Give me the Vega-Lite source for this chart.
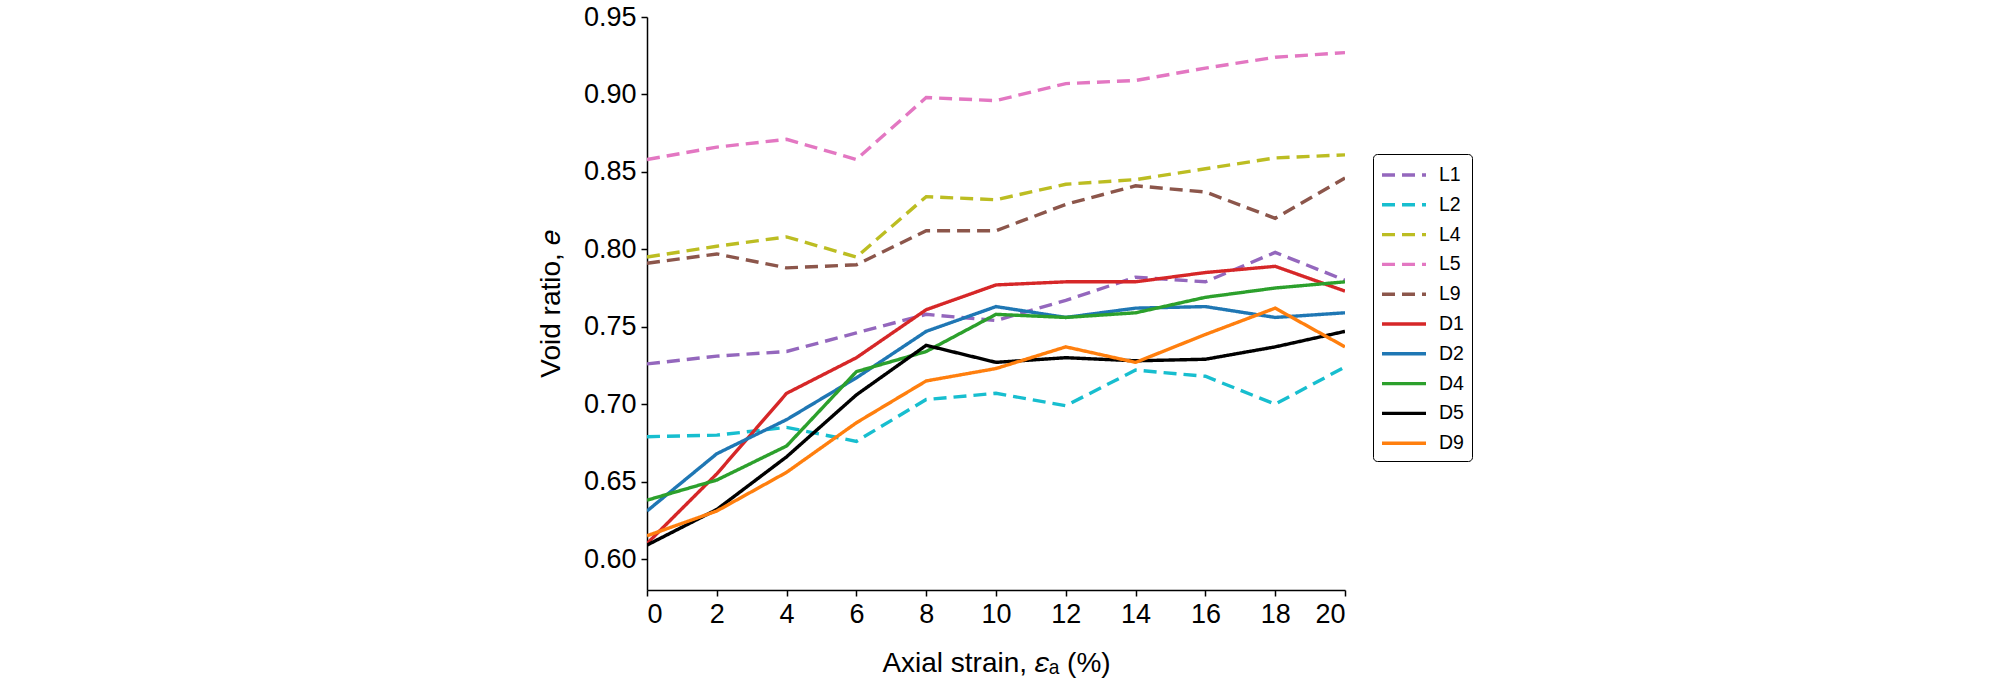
{
  "$schema": "https://vega.github.io/schema/vega-lite/v6.json",
  "description": "Void ratio against axial strain for loose (L) and dense (D) specimens.",
  "autosize": "none",
  "width": 698,
  "height": 573,
  "padding": {"left": 647, "top": 17, "right": 663, "bottom": 93},
  "background": "white",
  "config": {
    "view": {"stroke": null},
    "font": "Liberation Sans",
    "axis": {
      "grid": false,
      "domainColor": "black",
      "domainWidth": 1.5,
      "tickColor": "black",
      "tickWidth": 1.5,
      "tickSize": 6,
      "labelColor": "black",
      "labelFont": "Liberation Sans",
      "labelFontSize": 27,
      "labelPadding": 5,
      "titleColor": "black",
      "titleFont": "Liberation Sans",
      "titleFontSize": 28,
      "titleFontWeight": "normal"
    }
  },
  "data": {
    "values": [
      {"series": "L1", "strain": 0, "e": 0.726}, {"series": "L1", "strain": 2, "e": 0.731}, {"series": "L1", "strain": 4, "e": 0.734},
      {"series": "L1", "strain": 6, "e": 0.746}, {"series": "L1", "strain": 8, "e": 0.758}, {"series": "L1", "strain": 10, "e": 0.754},
      {"series": "L1", "strain": 12, "e": 0.767}, {"series": "L1", "strain": 14, "e": 0.782}, {"series": "L1", "strain": 16, "e": 0.779},
      {"series": "L1", "strain": 18, "e": 0.798}, {"series": "L1", "strain": 20, "e": 0.780},

      {"series": "L2", "strain": 0, "e": 0.679}, {"series": "L2", "strain": 2, "e": 0.680}, {"series": "L2", "strain": 4, "e": 0.685},
      {"series": "L2", "strain": 6, "e": 0.676}, {"series": "L2", "strain": 8, "e": 0.703}, {"series": "L2", "strain": 10, "e": 0.707},
      {"series": "L2", "strain": 12, "e": 0.699}, {"series": "L2", "strain": 14, "e": 0.722}, {"series": "L2", "strain": 16, "e": 0.718},
      {"series": "L2", "strain": 18, "e": 0.700}, {"series": "L2", "strain": 20, "e": 0.724},

      {"series": "L4", "strain": 0, "e": 0.795}, {"series": "L4", "strain": 2, "e": 0.802}, {"series": "L4", "strain": 4, "e": 0.808},
      {"series": "L4", "strain": 6, "e": 0.795}, {"series": "L4", "strain": 8, "e": 0.834}, {"series": "L4", "strain": 10, "e": 0.832},
      {"series": "L4", "strain": 12, "e": 0.842}, {"series": "L4", "strain": 14, "e": 0.845}, {"series": "L4", "strain": 16, "e": 0.852},
      {"series": "L4", "strain": 18, "e": 0.859}, {"series": "L4", "strain": 20, "e": 0.861},

      {"series": "L5", "strain": 0, "e": 0.858}, {"series": "L5", "strain": 2, "e": 0.866}, {"series": "L5", "strain": 4, "e": 0.871},
      {"series": "L5", "strain": 6, "e": 0.858}, {"series": "L5", "strain": 8, "e": 0.898}, {"series": "L5", "strain": 10, "e": 0.896},
      {"series": "L5", "strain": 12, "e": 0.907}, {"series": "L5", "strain": 14, "e": 0.909}, {"series": "L5", "strain": 16, "e": 0.917},
      {"series": "L5", "strain": 18, "e": 0.924}, {"series": "L5", "strain": 20, "e": 0.927},

      {"series": "L9", "strain": 0, "e": 0.791}, {"series": "L9", "strain": 2, "e": 0.797}, {"series": "L9", "strain": 4, "e": 0.788},
      {"series": "L9", "strain": 6, "e": 0.790}, {"series": "L9", "strain": 8, "e": 0.812}, {"series": "L9", "strain": 10, "e": 0.812},
      {"series": "L9", "strain": 12, "e": 0.829}, {"series": "L9", "strain": 14, "e": 0.841}, {"series": "L9", "strain": 16, "e": 0.837},
      {"series": "L9", "strain": 18, "e": 0.820}, {"series": "L9", "strain": 20, "e": 0.846},

      {"series": "D1", "strain": 0, "e": 0.610}, {"series": "D1", "strain": 2, "e": 0.655}, {"series": "D1", "strain": 4, "e": 0.707},
      {"series": "D1", "strain": 6, "e": 0.730}, {"series": "D1", "strain": 8, "e": 0.761}, {"series": "D1", "strain": 10, "e": 0.777},
      {"series": "D1", "strain": 12, "e": 0.779}, {"series": "D1", "strain": 14, "e": 0.779}, {"series": "D1", "strain": 16, "e": 0.785},
      {"series": "D1", "strain": 18, "e": 0.789}, {"series": "D1", "strain": 20, "e": 0.773},

      {"series": "D2", "strain": 0, "e": 0.631}, {"series": "D2", "strain": 2, "e": 0.668}, {"series": "D2", "strain": 4, "e": 0.690},
      {"series": "D2", "strain": 6, "e": 0.717}, {"series": "D2", "strain": 8, "e": 0.747}, {"series": "D2", "strain": 10, "e": 0.763},
      {"series": "D2", "strain": 12, "e": 0.756}, {"series": "D2", "strain": 14, "e": 0.762}, {"series": "D2", "strain": 16, "e": 0.763},
      {"series": "D2", "strain": 18, "e": 0.756}, {"series": "D2", "strain": 20, "e": 0.759},

      {"series": "D4", "strain": 0, "e": 0.638}, {"series": "D4", "strain": 2, "e": 0.651}, {"series": "D4", "strain": 4, "e": 0.673},
      {"series": "D4", "strain": 6, "e": 0.721}, {"series": "D4", "strain": 8, "e": 0.734}, {"series": "D4", "strain": 10, "e": 0.758},
      {"series": "D4", "strain": 12, "e": 0.756}, {"series": "D4", "strain": 14, "e": 0.759}, {"series": "D4", "strain": 16, "e": 0.769},
      {"series": "D4", "strain": 18, "e": 0.775}, {"series": "D4", "strain": 20, "e": 0.779},

      {"series": "D5", "strain": 0, "e": 0.609}, {"series": "D5", "strain": 2, "e": 0.632}, {"series": "D5", "strain": 4, "e": 0.666},
      {"series": "D5", "strain": 6, "e": 0.706}, {"series": "D5", "strain": 8, "e": 0.738}, {"series": "D5", "strain": 10, "e": 0.727},
      {"series": "D5", "strain": 12, "e": 0.730}, {"series": "D5", "strain": 14, "e": 0.728}, {"series": "D5", "strain": 16, "e": 0.729},
      {"series": "D5", "strain": 18, "e": 0.737}, {"series": "D5", "strain": 20, "e": 0.747},

      {"series": "D9", "strain": 0, "e": 0.615}, {"series": "D9", "strain": 2, "e": 0.631}, {"series": "D9", "strain": 4, "e": 0.656},
      {"series": "D9", "strain": 6, "e": 0.688}, {"series": "D9", "strain": 8, "e": 0.715}, {"series": "D9", "strain": 10, "e": 0.723},
      {"series": "D9", "strain": 12, "e": 0.737}, {"series": "D9", "strain": 14, "e": 0.727}, {"series": "D9", "strain": 16, "e": 0.745},
      {"series": "D9", "strain": 18, "e": 0.762}, {"series": "D9", "strain": 20, "e": 0.737}
    ]
  },
  "mark": {"type": "line", "strokeWidth": 3.4, "clip": true},
  "encoding": {
    "x": {
      "field": "strain",
      "type": "quantitative",
      "title": "Axial strain, 𝜀ₐ (%)",
      "scale": {"domain": [0, 20], "nice": false},
      "axis": {"values": [0, 2, 4, 6, 8, 10, 12, 14, 16, 18, 20], "titlePadding": 22}
    },
    "y": {
      "field": "e",
      "type": "quantitative",
      "title": "Void ratio, 𝑒",
      "scale": {"domain": [0.58, 0.95], "nice": false, "zero": false},
      "axis": {"values": [0.6, 0.65, 0.7, 0.75, 0.8, 0.85, 0.9, 0.95], "format": ".2f", "titlePadding": 18}
    },
    "color": {
      "field": "series",
      "type": "nominal",
      "sort": ["L1", "L2", "L4", "L5", "L9", "D1", "D2", "D4", "D5", "D9"],
      "scale": {
        "domain": ["L1", "L2", "L4", "L5", "L9", "D1", "D2", "D4", "D5", "D9"],
        "range": ["#9467bd", "#17becf", "#bcbd22", "#e377c2", "#8c564b", "#d62728", "#1f77b4", "#2ca02c", "#000000", "#ff7f0e"]
      },
      "legend": {
        "title": null,
        "orient": "none",
        "legendX": 726,
        "legendY": 137,
        "padding": 8,
        "cornerRadius": 4,
        "fillColor": "white",
        "strokeColor": "black",
        "symbolType": "M-2,0H2",
        "symbolSize": 484,
        "symbolOffset": 10,
        "symbolStrokeWidth": 3.4,
        "labelFont": "Liberation Sans",
        "labelFontSize": 19.5,
        "labelColor": "black",
        "labelOffset": 22,
        "rowPadding": 6.8
      }
    },
    "strokeDash": {
      "field": "series",
      "type": "nominal",
      "sort": ["L1", "L2", "L4", "L5", "L9", "D1", "D2", "D4", "D5", "D9"],
      "scale": {
        "domain": ["L1", "L2", "L4", "L5", "L9", "D1", "D2", "D4", "D5", "D9"],
        "range": [[13, 7], [13, 7], [13, 7], [13, 7], [13, 7], [1, 0], [1, 0], [1, 0], [1, 0], [1, 0]]
      },
      "legend": null
    }
  }
}
